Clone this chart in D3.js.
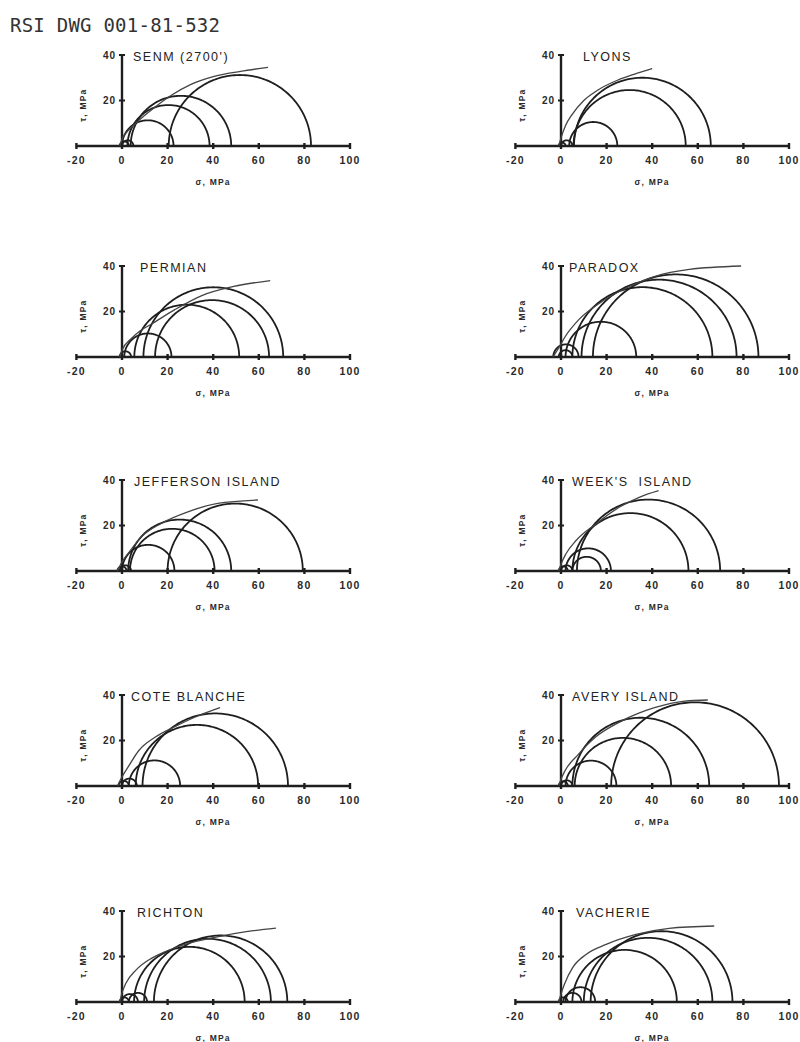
<!DOCTYPE html>
<html>
<head>
<meta charset="utf-8">
<script src="https://cdn.jsdelivr.net/npm/d3@7/dist/d3.min.js"></script>
<style>
  html, body { margin: 0; padding: 0; background: #fff; }
  svg { display: block; }
  text.ptitle { white-space: pre; }
</style>
</head>
<body>
<svg id="chart" width="800" height="1042"></svg>
<script>
// ---------------- DATA ----------------
const docTitle = "RSI DWG 001-81-532";
const panelNames = ["SENM (2700')", "LYONS", "PERMIAN", "PARADOX", "JEFFERSON ISLAND",
  "WEEK'S  ISLAND", "COTE BLANCHE", "AVERY ISLAND", "RICHTON", "VACHERIE"];
const xTicks = [-20, 0, 20, 40, 60, 80, 100];
const yTicks = [20, 40];
const xLabel = "\u03C3, MPa";
const yLabel = "\u03C4, MPa";

// Mohr circles as [sigma3, sigma1] in MPa
const senmCircles = [[-1, 3], [0, 5], [0, 22.6], [2.4, 38.4], [3.8, 47.9], [20.5, 82.9]];
const lyonsCircles = [[-1, 2], [0, 5], [3.6, 24.7], [5.5, 54.7], [5.7, 65.7]];
const permianCircles = [[-1, 4], [1, 21.7], [5.4, 51.4], [14.5, 64.5], [9.4, 70.7]];
const paradoxCircles = [[-3.4, 7.7], [-1, 5], [2, 33], [5, 66.4], [9, 77], [14, 86.6]];
const jeffersonCircles = [[-2, 2], [-1, 4], [0, 23], [3.5, 40.6], [2.7, 47.9], [20, 79.3]];
const weeksCircles = [[-1, 3], [0, 5], [5, 17.5], [2, 21.9], [5, 55.9], [7, 69.8]];
const coteCircles = [[-1.5, 3], [0, 6.5], [3, 25.5], [6, 59.7], [9, 72.8]];
const averyCircles = [[-1, 3], [0, 5], [2, 24.3], [6, 48.3], [5, 65], [22, 95.6]];
const richtonCircles = [[-1, 3], [0, 7], [3, 11], [5.3, 53.8], [9.7, 65.3], [14, 72.5]];
const vacherieCircles = [[-1, 3], [1, 9], [2, 15], [5, 50.8], [10, 66.4], [13, 75.2]];

// Failure envelopes as [sigma, tau] in MPa
const senmEnvelope = [[-1, 0], [0, 3], [2, 6], [5, 9], [10, 13.5], [15, 17.5], [22, 22.5], [30, 27], [40, 30.5], [52, 32.8], [64, 34.6]];
const lyonsEnvelope = [[-1, 0], [0, 3.5], [2, 9], [5, 14], [10, 20], [16, 24.5], [25, 29], [32, 31.5], [40, 34]];
const permianEnvelope = [[-1, 0], [0, 3], [4, 8], [8, 11.5], [13, 14.5], [23, 20.7], [35, 27], [49, 31], [65, 33.6]];
const paradoxEnvelope = [[-3.5, 0], [-1, 4], [1.8, 8.9], [7.7, 16.3], [18, 24.4], [30, 31], [41.6, 35.6], [56.3, 38.5], [79, 40]];
const jeffersonEnvelope = [[-2, 0], [0, 4], [2.6, 7.6], [8.5, 15], [17.2, 20.9], [28.9, 26], [42, 29.7], [59.6, 31.2]];
const weeksEnvelope = [[-1, 0], [0, 3], [2.2, 7.6], [6.6, 13.4], [15.3, 20.7], [25.5, 28], [34.3, 32.4], [42.8, 35.3]];
const coteEnvelope = [[-2, 0], [0, 4], [2.9, 8.7], [7.3, 15.5], [14.6, 21.5], [23.4, 26.2], [33.7, 31], [43, 34.5]];
const averyEnvelope = [[-1, 0], [0, 3], [1.7, 6.6], [7.6, 13.9], [14.8, 21.2], [26.5, 28.5], [41, 34.4], [54.2, 37.3], [64.4, 37.8]];
const richtonEnvelope = [[-1, 0], [0, 4], [1.7, 8.2], [6.1, 14], [11.9, 18.6], [19.1, 22.2], [27.7, 25.3], [40.7, 28.4], [55.2, 31], [67.5, 32.5]];
const vacherieEnvelope = [[-1, 0], [0, 3.5], [1.5, 7.8], [5.1, 15.1], [11, 20.9], [19.8, 25.3], [32.9, 29.7], [47.4, 32.4], [67.2, 33.4]];

const panelCircles = [senmCircles, lyonsCircles, permianCircles, paradoxCircles, jeffersonCircles,
  weeksCircles, coteCircles, averyCircles, richtonCircles, vacherieCircles];
const panelEnvelopes = [senmEnvelope, lyonsEnvelope, permianEnvelope, paradoxEnvelope, jeffersonEnvelope,
  weeksEnvelope, coteEnvelope, averyEnvelope, richtonEnvelope, vacherieEnvelope];

// ---------------- LAYOUT ----------------
const colZero = [122, 561];       // pixel x of sigma = 0 per column
const rowAxis = [146, 357, 571, 786, 1002]; // pixel y of tau = 0 per row
const pxPerMPaX = 2.28;
const yHeight40 = 91;
const titleDx = [11, 22, 18, 8, 12, 11, 9, 11, 15, 15];

const ink = "#1e1e1e";
const svg = d3.select("#chart");

svg.append("text")
  .attr("x", 10).attr("y", 32)
  .attr("font-family", "DejaVu Sans Mono, monospace")
  .attr("font-size", 19)
  .attr("fill", "#333")
  .attr("textLength", 210)
  .text(docTitle);

panelNames.forEach((name, i) => {
  const col = i % 2, row = Math.floor(i / 2);
  const x0 = colZero[col], yA = rowAxis[row];
  const x = d3.scaleLinear().domain([0, 100]).range([x0, x0 + 100 * pxPerMPaX]);
  const y = d3.scaleLinear().domain([0, 40]).range([yA, yA - yHeight40]);
  const g = svg.append("g");

  // x axis line
  g.append("line")
    .attr("x1", x(-20)).attr("x2", x(100))
    .attr("y1", y(0)).attr("y2", y(0))
    .attr("stroke", ink).attr("stroke-width", 2.4);
  // x ticks
  g.selectAll(".xt").data(xTicks).enter().append("line")
    .attr("x1", d => x(d)).attr("x2", d => x(d))
    .attr("y1", y(0) - 3).attr("y2", y(0) + 3)
    .attr("stroke", ink).attr("stroke-width", 2.4);
  g.selectAll(".xl").data(xTicks).enter().append("text")
    .attr("x", d => x(d)).attr("y", y(0) + 18)
    .attr("text-anchor", "middle")
    .attr("font-family", "Liberation Sans, Arial, sans-serif")
    .attr("font-size", 10.5).attr("font-weight", "bold")
    .attr("letter-spacing", 1.2)
    .attr("fill", "#2a2a2a")
    .text(d => d);

  // y axis line
  g.append("line")
    .attr("x1", x(0)).attr("x2", x(0))
    .attr("y1", y(0)).attr("y2", y(40))
    .attr("stroke", ink).attr("stroke-width", 2.4);
  g.selectAll(".yt").data(yTicks).enter().append("line")
    .attr("x1", x(0) - 3).attr("x2", x(0) + 3)
    .attr("y1", d => y(d)).attr("y2", d => y(d))
    .attr("stroke", ink).attr("stroke-width", 2);
  g.selectAll(".yl").data(yTicks).enter().append("text")
    .attr("x", x(0) - 6).attr("y", d => y(d) + 3.5)
    .attr("text-anchor", "end")
    .attr("font-family", "Liberation Sans, Arial, sans-serif")
    .attr("font-size", 10).attr("font-weight", "bold")
    .attr("letter-spacing", 1)
    .attr("fill", "#2a2a2a")
    .text(d => d);

  // axis titles
  g.append("text")
    .attr("x", x(40)).attr("y", y(0) + 39)
    .attr("text-anchor", "middle")
    .attr("font-family", "Liberation Sans, Arial, sans-serif")
    .attr("font-size", 8.5).attr("font-weight", "bold")
    .attr("letter-spacing", 1.2)
    .attr("fill", "#2a2a2a")
    .text(xLabel);
  g.append("text")
    .attr("transform", `translate(${x(0) - 36},${y(18)}) rotate(-90)`)
    .attr("text-anchor", "middle")
    .attr("font-family", "Liberation Sans, Arial, sans-serif")
    .attr("font-size", 8.5).attr("font-weight", "bold")
    .attr("letter-spacing", 1.2)
    .attr("fill", "#2a2a2a")
    .text(yLabel);

  // panel title
  g.append("text")
    .attr("class", "ptitle")
    .attr("x", x(0) + titleDx[i]).attr("y", y(40) + 6)
    .attr("font-family", "Liberation Sans, Arial, sans-serif")
    .attr("font-size", 12.5)
    .attr("letter-spacing", 1.5)
    .attr("fill", "#222")
    .text(name);

  // Mohr circles (upper halves)
  const arc = d3.line().x(p => x(p[0])).y(p => y(p[1]));
  panelCircles[i].forEach(([s3, s1]) => {
    const c = (s1 + s3) / 2, r = (s1 - s3) / 2;
    const pts = d3.range(0, 121).map(k => {
      const a = Math.PI * k / 120;
      return [c + r * Math.cos(a), r * Math.sin(a)];
    });
    g.append("path")
      .attr("d", arc(pts))
      .attr("fill", "none")
      .attr("stroke", ink)
      .attr("stroke-width", 1.8);
  });

  // envelope
  const env = d3.line().x(p => x(p[0])).y(p => y(p[1])).curve(d3.curveMonotoneX);
  g.append("path")
    .attr("d", env(panelEnvelopes[i]))
    .attr("fill", "none")
    .attr("stroke", "#444")
    .attr("stroke-width", 1.3);
});
</script>
</body>
</html>
